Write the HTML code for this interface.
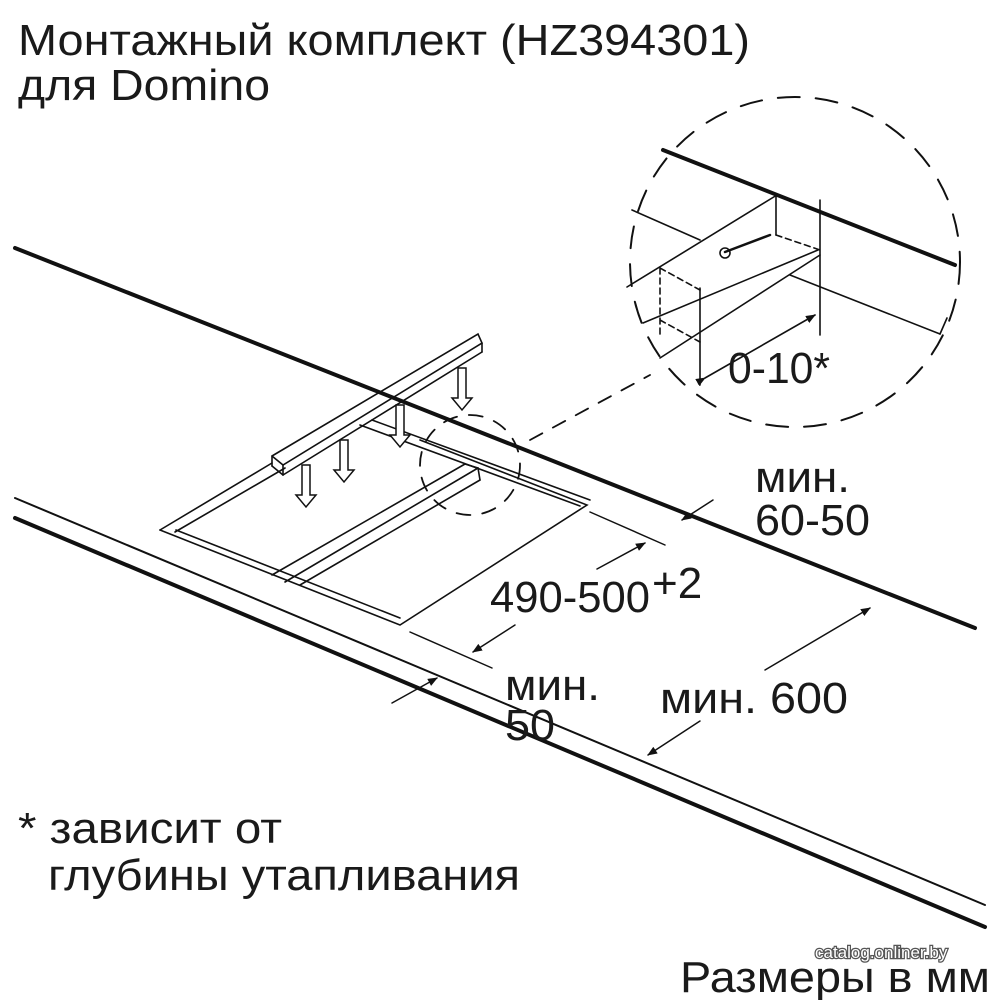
<!DOCTYPE html>
<html><head><meta charset="utf-8"><style>
body{margin:0;background:#fff;width:1000px;height:1000px;overflow:hidden}
svg{display:block}
text{font-family:"Liberation Sans",sans-serif;fill:#1a1a1a;font-size:44px}
</style></head><body>
<svg width="1000" height="1000" viewBox="0 0 1000 1000">
<defs><marker id="a" markerWidth="10" markerHeight="8" refX="9" refY="4" orient="auto" markerUnits="userSpaceOnUse"><path d="M0,0 L10,4 L0,8 Z" fill="#111"/></marker></defs>
<g stroke="#111" fill="none" stroke-linecap="round">
<line x1="15" y1="248" x2="975" y2="628" stroke-width="4"/>
<line x1="15" y1="498" x2="985" y2="905" stroke-width="2"/>
<line x1="15" y1="518" x2="985" y2="927" stroke-width="4"/>
<g stroke-width="1.6">
<polyline points="160,530 400,625 587,505 420,440"/>
<polyline points="176,530 400,618"/>
<line x1="160" y1="530" x2="272" y2="463"/>
<line x1="175" y1="532" x2="285" y2="468"/>
<line x1="360" y1="425" x2="580" y2="506"/>
<line x1="372" y1="420" x2="590" y2="500"/>
<line x1="272" y1="575" x2="465" y2="464"/>
<line x1="285" y1="582" x2="478" y2="468"/>
<line x1="300" y1="585" x2="480" y2="480"/>
<line x1="465" y1="464" x2="478" y2="468"/>
<line x1="478" y1="468" x2="480" y2="480"/>
<polyline points="272,456 478,334 482,343 283,465 272,456"/>
<line x1="283" y1="465" x2="283" y2="475"/>
<line x1="482" y1="343" x2="482" y2="352"/>
<line x1="283" y1="475" x2="482" y2="352"/>
<line x1="272" y1="456" x2="272" y2="466"/>
<line x1="272" y1="466" x2="283" y2="475"/>
</g>
<g stroke-width="1.5" fill="#fff">
<path d="M458,368 v30 h-6 l10,12 l10,-12 h-6 v-30 z"/>
<path d="M396,405 v30 h-6 l10,12 l10,-12 h-6 v-30 z"/>
<path d="M340,440 v30 h-6 l10,12 l10,-12 h-6 v-30 z"/>
<path d="M302,465 v30 h-6 l10,12 l10,-12 h-6 v-30 z"/>
</g>
<circle cx="470" cy="465" r="50" stroke-width="1.8" stroke-dasharray="14,12"/>
<line x1="530" y1="440" x2="650" y2="375" stroke-width="1.8" stroke-dasharray="14,12"/>
<circle cx="795" cy="262" r="165" stroke-width="2" stroke-dasharray="22,16"/>
<line x1="663" y1="150" x2="955" y2="265" stroke-width="4"/>
<g stroke-width="1.6">
<line x1="632" y1="210" x2="700" y2="240"/>
<line x1="627" y1="287" x2="777" y2="195"/>
<line x1="643" y1="323" x2="818" y2="250"/>
<line x1="660" y1="358" x2="820" y2="255"/>
<line x1="790" y1="275" x2="940" y2="334"/>
<line x1="940" y1="334" x2="947" y2="318"/>
<line x1="700" y1="288" x2="700" y2="385"/>
<line x1="820" y1="200" x2="820" y2="335"/>
<line x1="776" y1="196" x2="776" y2="235"/>
<path d="M660,268 v70 M660,268 l40,22 M660,320 l40,22 M776,235 l44,15" stroke-dasharray="6,4"/>
<line x1="725" y1="252" x2="770" y2="235" stroke-width="2.5"/>
<circle cx="725" cy="253" r="5"/>
<line x1="705" y1="378" x2="815" y2="315" marker-end="url(#a)" marker-start="url(#a)"/>
</g>
<g stroke-width="1.5">
<line x1="590" y1="512" x2="665" y2="545"/>
<line x1="410" y1="632" x2="492" y2="668"/>
<line x1="597" y1="569" x2="645" y2="543" marker-end="url(#a)"/>
<line x1="515" y1="625" x2="473" y2="652" marker-end="url(#a)"/>
<line x1="713" y1="500" x2="682" y2="520" marker-end="url(#a)"/>
<line x1="392" y1="703" x2="437" y2="678" marker-end="url(#a)"/>
<line x1="765" y1="670" x2="870" y2="608" marker-end="url(#a)"/>
<line x1="700" y1="721" x2="648" y2="755" marker-end="url(#a)"/>
</g>
</g>
<text x="18" y="55" textLength="732" lengthAdjust="spacingAndGlyphs">Монтажный комплект (HZ394301)</text>
<text x="18" y="100" textLength="252" lengthAdjust="spacingAndGlyphs">для Domino</text>
<text x="728" y="383" textLength="102" lengthAdjust="spacingAndGlyphs">0-10*</text>
<text x="755" y="492" textLength="95" lengthAdjust="spacingAndGlyphs">мин.</text>
<text x="755" y="535" textLength="115" lengthAdjust="spacingAndGlyphs">60-50</text>
<text x="490" y="612" textLength="160" lengthAdjust="spacingAndGlyphs">490-500</text>
<text x="652" y="598" font-size="30">+2</text>
<text x="505" y="700" textLength="95" lengthAdjust="spacingAndGlyphs">мин.</text>
<text x="505" y="740" textLength="50" lengthAdjust="spacingAndGlyphs">50</text>
<text x="660" y="713" textLength="188" lengthAdjust="spacingAndGlyphs">мин. 600</text>
<text x="18" y="843" textLength="264" lengthAdjust="spacingAndGlyphs">* зависит от</text>
<text x="48" y="890" textLength="472" lengthAdjust="spacingAndGlyphs">глубины утапливания</text>
<text x="680" y="992" textLength="310" lengthAdjust="spacingAndGlyphs">Размеры в мм</text>
<text x="815" y="958" style="font-size:17px;fill:#fff;stroke:#555;stroke-width:2.5;paint-order:stroke">catalog.onliner.by</text>
</svg>
</body></html>
